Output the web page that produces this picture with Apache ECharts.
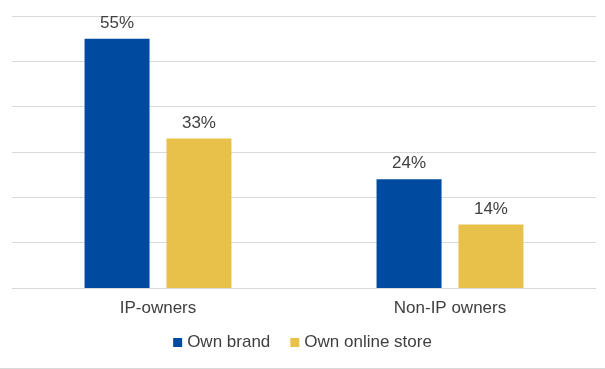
<!DOCTYPE html>
<html><head><meta charset="utf-8">
<script src="https://cdn.jsdelivr.net/npm/echarts@6/dist/echarts.min.js"></script>
<style>html,body{margin:0;padding:0;background:#fff}#c{width:605px;height:368px;border-bottom:1px solid #d9d9d9}</style>
</head><body><div id="c"></div>
<script>
const categories = ['IP-owners', 'Non-IP owners'];
const ownBrand = [55, 24];
const ownOnlineStore = [33, 14];
const seriesNames = ['Own brand', 'Own online store'];
const chart = echarts.init(document.getElementById('c'));
const FF = 'Arial, Liberation Sans, sans-serif';
const lbl = {show: true, position: 'top', formatter: '{c}%', color: '#404040', fontSize: 17, fontFamily: FF, distance: 7};
chart.setOption({
  animation: false,
  grid: {left: 12, right: 9, top: 16, bottom: 80},
  legend: {bottom: 12, left: 'center', itemWidth: 9, itemHeight: 9, itemGap: 20, icon: 'rect',
    textStyle: {color: '#404040', fontSize: 17, fontFamily: FF}, data: seriesNames},
  xAxis: {type: 'category', data: categories, axisTick: {show: false},
    axisLine: {lineStyle: {color: '#d9d9d9'}},
    axisLabel: {color: '#404040', fontSize: 17, margin: 12, fontFamily: FF}},
  yAxis: {type: 'value', min: 0, max: 60, interval: 10, axisLabel: {show: false},
    splitLine: {lineStyle: {color: '#d9d9d9'}}},
  series: [
    {name: seriesNames[0], type: 'bar', data: ownBrand, barWidth: 65, barGap: '26%', itemStyle: {color: '#004A9F'}, label: lbl},
    {name: seriesNames[1], type: 'bar', data: ownOnlineStore, barWidth: 65, itemStyle: {color: '#E8C14A'}, label: lbl}
  ]
});
</script></body></html>
